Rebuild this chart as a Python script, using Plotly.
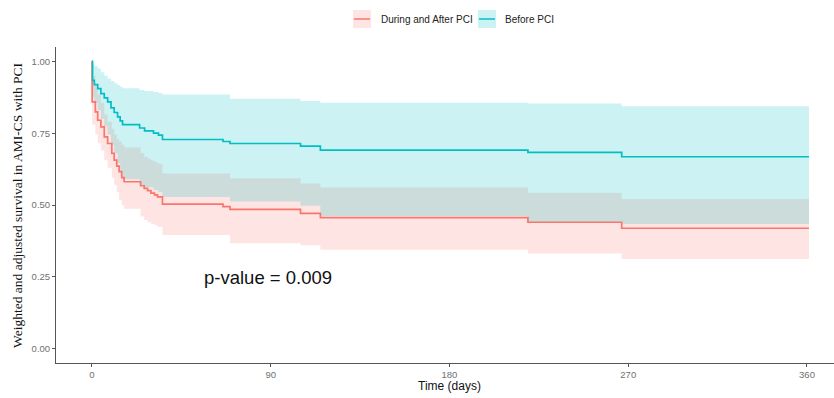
import plotly.graph_objects as go

# Weighted Kaplan-Meier estimates with 95% confidence bands
days_after = [0, 0.1, 1.7, 2.9, 4.5, 6.2, 7.9, 10, 11.2, 12.5, 13.7, 15, 16.2, 24.5, 26.3,
              28, 29.7, 31.5, 33, 35.5, 66, 69.5, 105, 115, 219.5, 266.7, 361]
surv_after = [1.0, 0.859, 0.824, 0.795, 0.772, 0.737, 0.714, 0.68, 0.656, 0.635, 0.616, 0.595,
              0.581, 0.567, 0.558, 0.55, 0.541, 0.535, 0.528, 0.503, 0.494, 0.485, 0.471, 0.456,
              0.440, 0.419, 0.419]
upper_after = [1.0, 0.95, 0.915, 0.885, 0.855, 0.815, 0.79, 0.765, 0.745, 0.73, 0.72, 0.71,
               0.70, 0.68, 0.668, 0.662, 0.655, 0.65, 0.644, 0.61, 0.61, 0.593, 0.575, 0.561,
               0.543, 0.521, 0.521]
lower_after = [1.0, 0.78, 0.745, 0.715, 0.69, 0.656, 0.63, 0.595, 0.57, 0.545, 0.517, 0.50,
               0.487, 0.46, 0.448, 0.44, 0.435, 0.43, 0.423, 0.396, 0.396, 0.367, 0.36, 0.344,
               0.331, 0.312, 0.312]

days_before = [0, 0.3, 1.2, 2.9, 4.5, 6.2, 7.9, 9.6, 11.2, 12.9, 14.2, 15.4, 24, 26.5, 31,
               33.5, 35.5, 66, 69.5, 105, 115, 219.5, 266.7, 361]
surv_before = [1.0, 0.934, 0.919, 0.905, 0.888, 0.873, 0.859, 0.838, 0.822, 0.807, 0.793, 0.780,
               0.768, 0.758, 0.75, 0.743, 0.728, 0.721, 0.714, 0.705, 0.691, 0.683, 0.668, 0.668]
upper_before = [1.0, 0.99, 0.984, 0.975, 0.962, 0.95, 0.94, 0.932, 0.924, 0.917, 0.912, 0.906,
                0.90, 0.897, 0.893, 0.89, 0.885, 0.885, 0.870, 0.862, 0.856, 0.853, 0.844, 0.844]
lower_before = [1.0, 0.875, 0.855, 0.83, 0.80, 0.775, 0.745, 0.71, 0.68, 0.645, 0.615, 0.59,
                0.569, 0.562, 0.552, 0.545, 0.528, 0.528, 0.512, 0.497, 0.462, 0.44, 0.434, 0.434]

group_names = ["During and After PCI", "Before PCI"]
line_colors = ["#F8766D", "#00BFC4"]
band_colors = ["rgba(248,118,109,0.2)", "rgba(0,191,196,0.2)"]

x_ticks = [0, 90, 180, 270, 360]
y_ticks = [0.0, 0.25, 0.50, 0.75, 1.0]
y_tick_text = ["0.00", "0.25", "0.50", "0.75", "1.00"]
p_text = "p-value = 0.009"

W, H = 834, 398
L, R, T, B = 56, 834, 47, 363


def px(xp):
    return (xp - L) / (R - L)


def py(yp):
    return (B - yp) / (B - T)


fig = go.Figure()

groups = [
    (days_after, surv_after, lower_after, upper_after),
    (days_before, surv_before, lower_before, upper_before),
]

# confidence bands
for (t, s, lo, up), fc in zip(groups, band_colors):
    fig.add_trace(go.Scatter(x=t, y=lo, mode="lines", line=dict(width=0, shape="hv"),
                             showlegend=False, hoverinfo="skip"))
    fig.add_trace(go.Scatter(x=t, y=up, mode="lines", line=dict(width=0, shape="hv"),
                             fill="tonexty", fillcolor=fc, showlegend=False, hoverinfo="skip"))

# survival curves
for (t, s, lo, up), name, lc in zip(groups, group_names, line_colors):
    fig.add_trace(go.Scatter(x=t, y=s, mode="lines", name=name,
                             line=dict(color=lc, width=1.7, shape="hv"), showlegend=False))

axis_font = dict(family="Liberation Sans, Arial, sans-serif", size=9.5, color="#707070")

fig.update_layout(
    width=W, height=H,
    margin=dict(l=L, r=W - R, t=T, b=H - B),
    paper_bgcolor="white", plot_bgcolor="white",
    showlegend=False,
    xaxis=dict(range=[-18.1, 373.6], tickvals=x_ticks, ticks="outside", ticklen=3,
               tickcolor="#555", tickwidth=1, showline=True, linecolor="#555", linewidth=1,
               showgrid=False, zeroline=False, tickfont=axis_font),
    yaxis=dict(range=[-0.05, 1.05], tickvals=y_ticks, ticktext=y_tick_text, ticks="outside",
               ticklen=3, tickcolor="#555", tickwidth=1, showline=True, linecolor="#555",
               linewidth=1, showgrid=False, zeroline=False, tickfont=axis_font),
)

annotations = [
    dict(text="Time (days)", xref="paper", yref="paper", x=px(449), y=py(386),
         xanchor="center", yanchor="middle", showarrow=False,
         font=dict(family="Liberation Sans, Arial, sans-serif", size=12, color="#111")),
    dict(text="Weighted and adjusted survival in AMI-CS with PCI", xref="paper", yref="paper",
         x=px(17), y=py(205), textangle=-90, xanchor="center", yanchor="middle",
         showarrow=False,
         font=dict(family="Liberation Serif, Times New Roman, serif", size=13.5, color="#111")),
    dict(text=p_text, xref="x", yref="y", x=88.4, y=0.2465, xanchor="center",
         yanchor="middle", showarrow=False,
         font=dict(family="Liberation Sans, Arial, sans-serif", size=18.5, color="#111")),
]

# legend drawn as keys with labels above the panel
shapes = []
key_left = [353, 478]
text_left = [379, 503]
for kx, tx, name, lc, fc in zip(key_left, text_left, group_names, line_colors, band_colors):
    shapes.append(dict(type="rect", xref="paper", yref="paper", x0=px(kx), x1=px(kx + 18),
                       y0=py(28), y1=py(10), fillcolor=fc, line=dict(width=0)))
    shapes.append(dict(type="line", xref="paper", yref="paper", x0=px(kx + 1), x1=px(kx + 17),
                       y0=py(19), y1=py(19), line=dict(color=lc, width=1.5)))
    annotations.append(dict(text=name, xref="paper", yref="paper", x=px(tx), y=py(19.5),
                            xanchor="left", yanchor="middle", showarrow=False,
                            font=dict(family="Liberation Sans, Arial, sans-serif", size=10,
                                      color="#222")))

fig.update_layout(annotations=annotations, shapes=shapes)

fig.write_html("out.html")
